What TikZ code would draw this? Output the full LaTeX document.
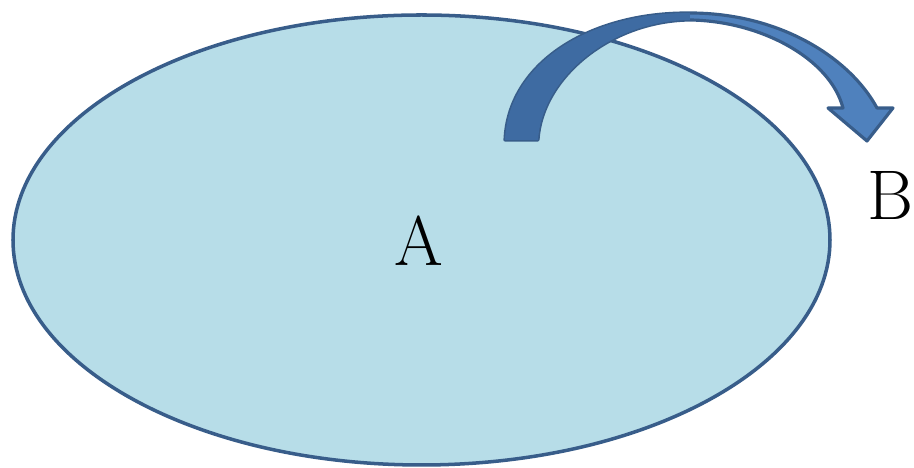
\documentclass[tikz,border=0pt]{standalone}
\definecolor{setfill}{HTML}{B7DDE8}
\definecolor{setline}{HTML}{385D8A}
\definecolor{arrowfill}{HTML}{4F81BD}
\definecolor{arrowdark}{HTML}{3E6BA2}
\tikzset{
  setlabel/.style={font=\fontsize{20}{24}\selectfont, inner sep=0pt},
}
\begin{document}
\begin{tikzpicture}
  \useasboundingbox (0,0) rectangle (9.14,4.68);
  \draw[line width=1pt, setline, fill=setfill] (4.215,2.28) ellipse (4.085 and 2.25);
  \draw[line width=0.9pt, setline, fill=arrowfill, line join=round]
    (5.05,3.28) .. controls (5.08,4.05) and (5.9,4.56) .. (6.9,4.55)
    .. controls (7.8,4.55) and (8.5,4.1) .. (8.77,3.6)
    -- (8.93,3.6) -- (8.67,3.27) -- (8.28,3.6) -- (8.43,3.6)
    .. controls (8.3,4.1) and (7.6,4.47) .. (6.9,4.48)
    .. controls (6.1,4.47) and (5.42,3.9) .. (5.38,3.28) -- cycle;
  \fill[arrowdark]
    (5.05,3.28) .. controls (5.08,4.05) and (5.9,4.56) .. (6.9,4.55)
    -- (6.9,4.48) .. controls (6.1,4.47) and (5.42,3.9) .. (5.38,3.28) -- cycle;
  \node[setlabel] (a) at (4.19,2.27) {A};
  \node[setlabel] (b) at (8.90,2.725) {B};
\end{tikzpicture}
\end{document}
